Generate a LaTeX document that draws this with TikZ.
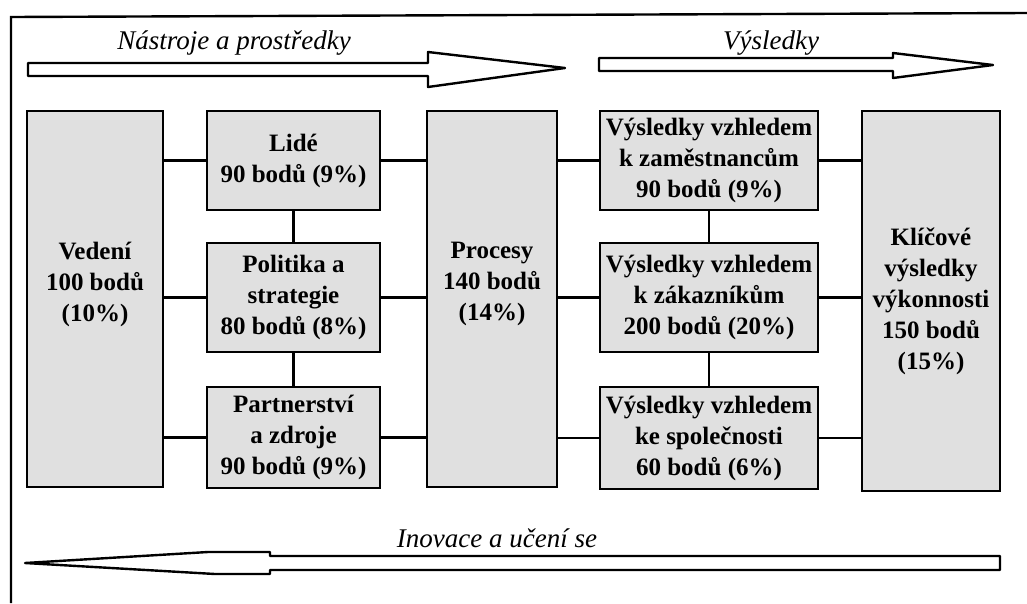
\documentclass[tikz,border=0pt]{standalone}
\usepackage{fontspec}
\setmainfont{Liberation Serif}
\usetikzlibrary{positioning}

\tikzset{
  pole/.style={draw,line width=2.8pt,fill=black!12,align=center,inner sep=2pt,
    font=\bfseries\fontsize{25}{31}\selectfont},
  poletext/.style={align=center,inner sep=0pt,font=\bfseries\fontsize{25}{31}\selectfont},
  spoj/.style={line width=2.4pt},
  sipka/.style={draw,line width=2.4pt,fill=white,line join=round},
  nadpis/.style={font=\itshape\fontsize{27}{32}\selectfont}
}

\begin{document}
\begin{tikzpicture}[x=1pt,y=-1pt]
    \useasboundingbox (0,0) rectangle (1027,603);
    % ramecek
    \draw[line width=2.4pt] (11,603) -- (11,17) -- (1027,13);

    % sipky a nadpisy
    \draw[sipka] (28,63) -- (428,63) -- (428,52) -- (565,68) -- (428,87) -- (428,76) -- (28,76) -- cycle;
    \draw[sipka] (599,58) -- (893,58) -- (893,53) -- (993,65) -- (893,78) -- (893,71) -- (599,71) -- cycle;
    \draw[sipka] (1000,556) -- (270,556) -- (270,552) -- (208,552) -- (25,563) -- (215,574) -- (270,574) -- (270,570) -- (1000,570) -- cycle;
    \node[nadpis] (nastroje) at (234,43) {Nástroje a prostředky};
    \node[nadpis] (vysledky) at (771,43) {Výsledky};
    \node[nadpis] (inovace) at (497,538) {Inovace a učení se};

    % predpoklady
    \node[pole,minimum width=136pt,minimum height=376pt] (vedeni) at (95,299) {};
    \node[poletext] (vedeni-txt) at (95,284) {Vedení\\100 bodů\\(10\%)};
    \node[pole,minimum width=173pt,minimum height=99pt] (lide) at (293.5,160.5) {Lidé\\90 bodů (9\%)};
    \node[pole,minimum width=173pt,minimum height=109pt] (politika) at (293.5,297.5) {Politika a\\strategie\\80 bodů (8\%)};
    \node[pole,minimum width=173pt,minimum height=101pt] (partner) at (293.5,437.5) {Partnerství\\a zdroje\\90 bodů (9\%)};
    \node[pole,minimum width=130pt,minimum height=376pt] (procesy) at (492,299) {};
    \node[poletext] (procesy-txt) at (492,284) {Procesy\\140 bodů\\(14\%)};

    % vysledky
    \node[pole,minimum width=218pt,minimum height=99pt] (zam) at (709,160.5) {Výsledky vzhledem\\k zaměstnancům\\90 bodů (9\%)};
    \node[pole,minimum width=218pt,minimum height=109pt] (zak) at (709,297.5) {Výsledky vzhledem\\k zákazníkům\\200 bodů (20\%)};
    \node[pole,minimum width=218pt,minimum height=102pt] (spol) at (709,438) {Výsledky vzhledem\\ke společnosti\\60 bodů (6\%)};
    \node[pole,minimum width=138pt,minimum height=380pt] (klic) at (931,301) {Klíčové\\výsledky\\výkonnosti\\150 bodů\\(15\%)};

    % spojnice
    \foreach \n in {lide,politika,partner}
      \draw[spoj] (\n.west) -- (\n.west -| vedeni.east) (\n.east) -- (\n.east -| procesy.west);
    \foreach \n in {zam,zak,spol}
      \draw[spoj] (\n.west) -- (\n.west -| procesy.east) (\n.east) -- (\n.east -| klic.west);
    \draw[spoj] (lide) -- (politika) -- (partner);
    \draw[spoj] (zam) -- (zak) -- (spol);
\end{tikzpicture}
\end{document}
